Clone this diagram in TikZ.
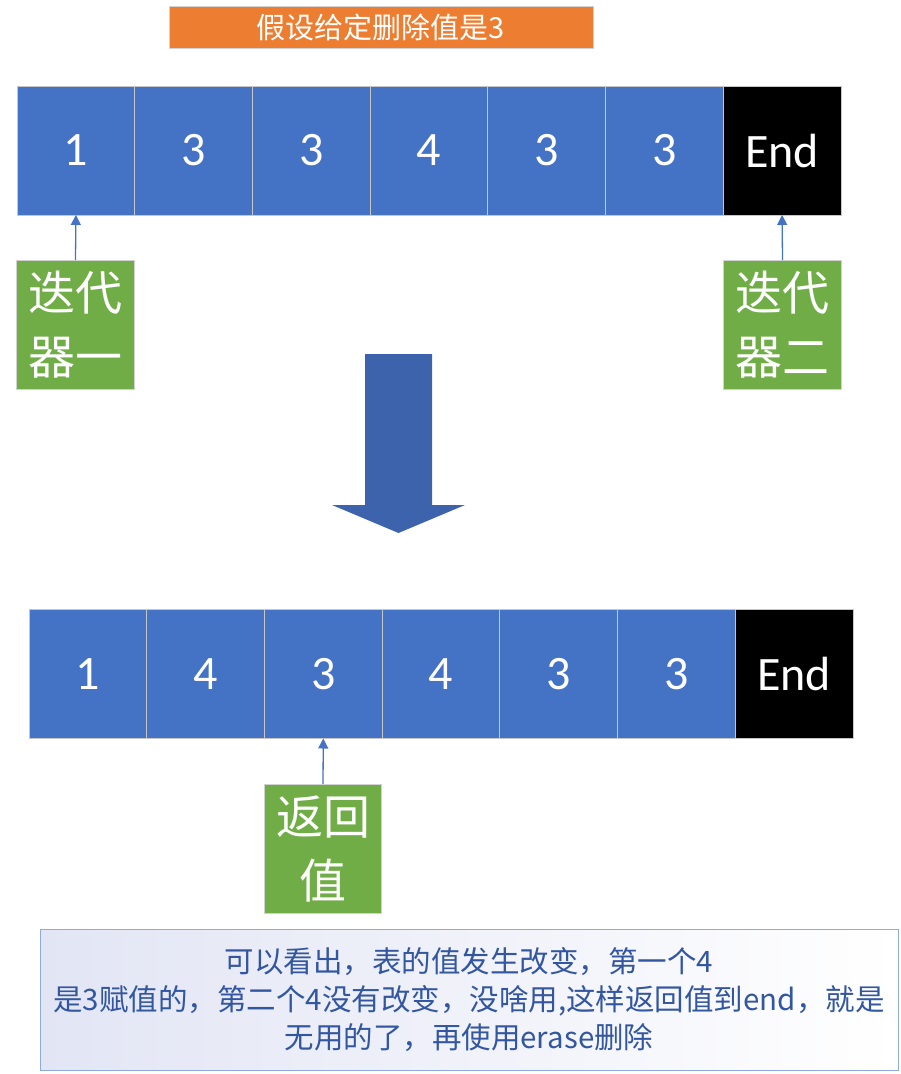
\documentclass[tikz,border=0pt]{standalone}
\usepackage{fontspec}
\setmainfont{Carlito}
\newfontfamily\cjk{Noto Sans CJK SC}
\usepackage{tikz}
\usetikzlibrary{arrows.meta,positioning}
\definecolor{cellblue}{HTML}{4472C4}
\definecolor{itergreen}{HTML}{70AD47}
\definecolor{bannerorange}{HTML}{ED7D31}
\definecolor{bigblue}{HTML}{3D63AC}
\definecolor{notetext}{HTML}{3256A0}
\definecolor{noteborder}{HTML}{8FAADC}
\definecolor{noteshade}{HTML}{E2E5F4}

\begin{document}
\begin{tikzpicture}[
  x=1pt, y=-1pt,
  cell/.style={draw=gray!45, line width=0.8pt, fill=cellblue, text=white, minimum width=117.7pt, minimum height=129pt, inner sep=0pt, outer sep=0pt, font=\fontsize{48}{56}\selectfont},
  endcell/.style={cell, fill=black},
  iter/.style={draw=gray!35, line width=0.8pt, fill=itergreen, text=white, minimum width=117.5pt, minimum height=129pt, inner sep=0pt, align=center, font=\cjk\fontsize{47}{64}\selectfont},
  banner/.style={draw=gray!35, line width=0.8pt, fill=bannerorange, text=white, minimum width=424pt, minimum height=42pt, inner sep=0pt, font=\cjk\fontsize{29}{32}\selectfont},
  note/.style={draw=noteborder, line width=1pt, left color=noteshade, right color=white, text=notetext, minimum width=858pt, minimum height=141pt, inner sep=0pt, align=center, font=\cjk\fontsize{29.5}{38}\selectfont},
  pointer/.style={-{Triangle[length=10pt, width=10pt]}, draw=cellblue, line width=1.3pt}
]
\useasboundingbox (0,0) rectangle (901,1074);

\node[banner] (title) at (381,27) {假设给定删除值是3};

% before
\node[cell] (a1) at (75.9,150.5) {1};
\node[cell, right=0pt of a1] (a2) {3};
\node[cell, right=0pt of a2] (a3) {3};
\node[cell, right=0pt of a3] (a4) {4};
\node[cell, right=0pt of a4] (a5) {3};
\node[cell, right=0pt of a5] (a6) {3};
\node[endcell, right=0pt of a6] (aend) {End};

\node[iter] (first) at (75.5,325) {迭代\\器一};
\node[iter] (second) at (782.5,325) {迭代\\器二};
\draw[pointer] (first.north) -- (a1.south);
\draw[pointer] (second.north) -- (aend.south);

% big arrow
\fill[bigblue] (365,354) -- (432,354) -- (432,505) -- (465,505) -- (398.5,533) -- (332,505) -- (365,505) -- cycle;

% after
\node[cell] (b1) at (87.9,674) {1};
\node[cell, right=0pt of b1] (b2) {4};
\node[cell, right=0pt of b2] (b3) {3};
\node[cell, right=0pt of b3] (b4) {4};
\node[cell, right=0pt of b4] (b5) {3};
\node[cell, right=0pt of b5] (b6) {3};
\node[endcell, right=0pt of b6] (bend) {End};

\node[iter] (ret) at (323,849) {返回\\值};
\draw[pointer] (ret.north) -- (b3.south);

\node[note] (remark) at (469,999.5) {可以看出，表的值发生改变，第一个4\\是3赋值的，第二个4没有改变，没啥用,这样返回值到end，就是\\无用的了，再使用erase删除};

\end{tikzpicture}
\end{document}
